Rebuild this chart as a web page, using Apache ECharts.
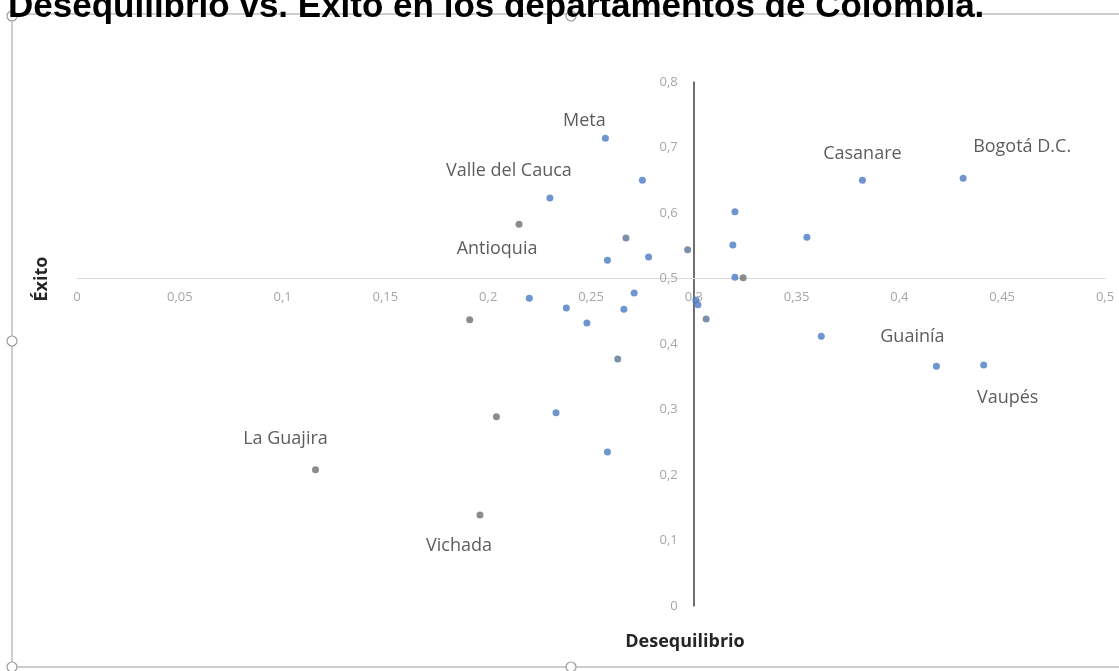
<!DOCTYPE html>
<html>
<head>
<meta charset="utf-8">
<script src="https://cdn.jsdelivr.net/npm/echarts@6/dist/echarts.min.js"></script>
<style>
  html, body { margin: 0; padding: 0; background: #ffffff; }
  #chart { width: 1119px; height: 671px; }
</style>
</head>
<body>
<div id="chart"></div>
<script>
// Departments of Colombia: imbalance (Desequilibrio) vs. success (Éxito)
const names = [
  'Meta', '', 'Valle del Cauca', 'Antioquia', '', '', '', '', '', '',
  '', '', '', 'Casanare', 'Bogotá D.C.', '', 'Guainía', 'Vaupés', '', '',
  '', '', '', '', '', '', '', '', 'La Guajira', 'Vichada',
  '', '', ''
];
const desequilibrio = [
  0.257, 0.275, 0.230, 0.215, 0.267, 0.258, 0.278, 0.297, 0.320, 0.319,
  0.320, 0.324, 0.355, 0.382, 0.431, 0.362, 0.418, 0.441, 0.220, 0.238,
  0.248, 0.271, 0.266, 0.263, 0.191, 0.204, 0.233, 0.258, 0.116, 0.196,
  0.301, 0.302, 0.306
];
const exito = [
  0.714, 0.650, 0.623, 0.583, 0.562, 0.528, 0.533, 0.544, 0.602, 0.551,
  0.502, 0.501, 0.563, 0.650, 0.653, 0.412, 0.366, 0.368, 0.470, 0.455,
  0.432, 0.478, 0.453, 0.377, 0.437, 0.289, 0.295, 0.235, 0.208, 0.139,
  0.467, 0.460, 0.438
];
// marker group: 0 = blue, 1 = grey, 2 = slate
const grupo = [
  0, 0, 0, 1, 2, 0, 0, 2, 0, 0,
  0, 1, 0, 0, 0, 0, 0, 0, 0, 0,
  0, 0, 0, 2, 1, 1, 0, 0, 1, 1,
  0, 0, 2
];
const xTicks = [0, 0.05, 0.1, 0.15, 0.2, 0.25, 0.3, 0.35, 0.4, 0.45, 0.5];
const yTicks = [0, 0.1, 0.2, 0.3, 0.4, 0.5, 0.6, 0.7, 0.8];
const xCross = 0.3;   // where the vertical axis crosses
const yCross = 0.5;   // where the horizontal axis crosses

const groupColors = ['#4a7bc4', '#6f6f6f', '#5b7496'];

// label placement around each labelled marker (pixels from the marker)
const labelOffsets = {
  'Meta': [-21, -17],
  'Valle del Cauca': [-41, -27],
  'Antioquia': [-22, 25],
  'Casanare': [0, -26],
  'Bogotá D.C.': [59, -31],
  'Guainía': [-24, -29],
  'Vaupés': [24, 33],
  'La Guajira': [-30, -31],
  'Vichada': [-21, 31]
};

const fmt = v => String(+v.toFixed(2)).replace('.', ',');

const points = names.map((n, i) => {
  const item = {
    name: n,
    value: [desequilibrio[i], exito[i]],
    itemStyle: { color: groupColors[grupo[i]] }
  };
  if (n) {
    item.label = {
      show: true,
      position: 'inside',
      offset: labelOffsets[n],
      formatter: '{b}',
      color: '#333333',
      fontSize: 18,
      fontFamily: '"Open Sans", sans-serif'
    };
  }
  return item;
});

const chart = echarts.init(document.getElementById('chart'), null, { renderer: 'canvas' });

const tickFont = {
  color: '#a6a6a6',
  fontSize: 13,
  fontFamily: '"Open Sans", sans-serif',
  formatter: v => fmt(v)
};

const option = {
  animation: false,
  backgroundColor: '#ffffff',
  grid: { left: 77, right: 14, top: 82, bottom: 65, containLabel: false },
  xAxis: {
    type: 'value',
    min: xTicks[0],
    max: xTicks[xTicks.length - 1],
    interval: 0.05,
    position: 'bottom',
    offset: 0,
    axisLine: { show: true, onZero: false, lineStyle: { color: '#d9d9d9', width: 1 } },
    axisTick: { show: false },
    splitLine: { show: false },
    axisLabel: Object.assign({ margin: 12 }, tickFont)
  },
  yAxis: {
    type: 'value',
    min: yTicks[0],
    max: yTicks[yTicks.length - 1],
    interval: 0.1,
    position: 'left',
    offset: 0,
    axisLine: { show: true, onZero: false, lineStyle: { color: '#404040', width: 1.5 } },
    axisTick: { show: false },
    splitLine: { show: false },
    axisLabel: Object.assign({ margin: 16 }, tickFont)
  },
  series: [{
    type: 'scatter',
    symbol: 'circle',
    symbolSize: 7,
    data: points,
    z: 5
  }],
  graphic: [
    // chart frame
    { type: 'rect', shape: { x: 12, y: 14, width: 1120, height: 653 },
      style: { fill: 'none', stroke: '#bfbfbf', lineWidth: 1.5 }, z: 0, silent: true },
    // frame handles
    { type: 'circle', shape: { cx: 12, cy: 16, r: 5 }, style: { fill: '#fff', stroke: '#9a9a9a', lineWidth: 1.2 }, z: 1 },
    { type: 'circle', shape: { cx: 571, cy: 16, r: 5 }, style: { fill: '#fff', stroke: '#9a9a9a', lineWidth: 1.2 }, z: 1 },
    { type: 'circle', shape: { cx: 12, cy: 341, r: 5 }, style: { fill: '#fff', stroke: '#9a9a9a', lineWidth: 1.2 }, z: 1 },
    { type: 'circle', shape: { cx: 12, cy: 667, r: 5 }, style: { fill: '#fff', stroke: '#9a9a9a', lineWidth: 1.2 }, z: 1 },
    { type: 'circle', shape: { cx: 571, cy: 667, r: 5 }, style: { fill: '#fff', stroke: '#9a9a9a', lineWidth: 1.2 }, z: 1 },
    // title
    { type: 'text', x: 8, y: 7, z: 10,
      style: { text: 'Desequilibrio vs. Éxito en los departamentos de Colombia.',
               font: 'bold 35px "Liberation Sans", Arial, sans-serif', fill: '#000000',
               align: 'left', verticalAlign: 'middle' } },
    // axis titles
    { type: 'text', x: 685, y: 642, z: 10,
      style: { text: 'Desequilibrio', font: 'bold 18px "Open Sans", sans-serif', fill: '#262626',
               align: 'center', verticalAlign: 'middle' } },
    { type: 'text', x: 42, y: 279, rotation: Math.PI / 2, z: 10,
      style: { text: 'Éxito', font: 'bold 18px "Open Sans", sans-serif', fill: '#262626',
               align: 'center', verticalAlign: 'middle' } }
  ]
};

chart.setOption(option);

// move the axes so they cross at (xCross, yCross)
const cross = chart.convertToPixel({ gridIndex: 0 }, [xCross, yCross]);
const origin = chart.convertToPixel({ gridIndex: 0 }, [xTicks[0], yTicks[0]]);
chart.setOption({
  xAxis: { offset: cross[1] - origin[1] },
  yAxis: { offset: origin[0] - cross[0] }
});
</script>
</body>
</html>
